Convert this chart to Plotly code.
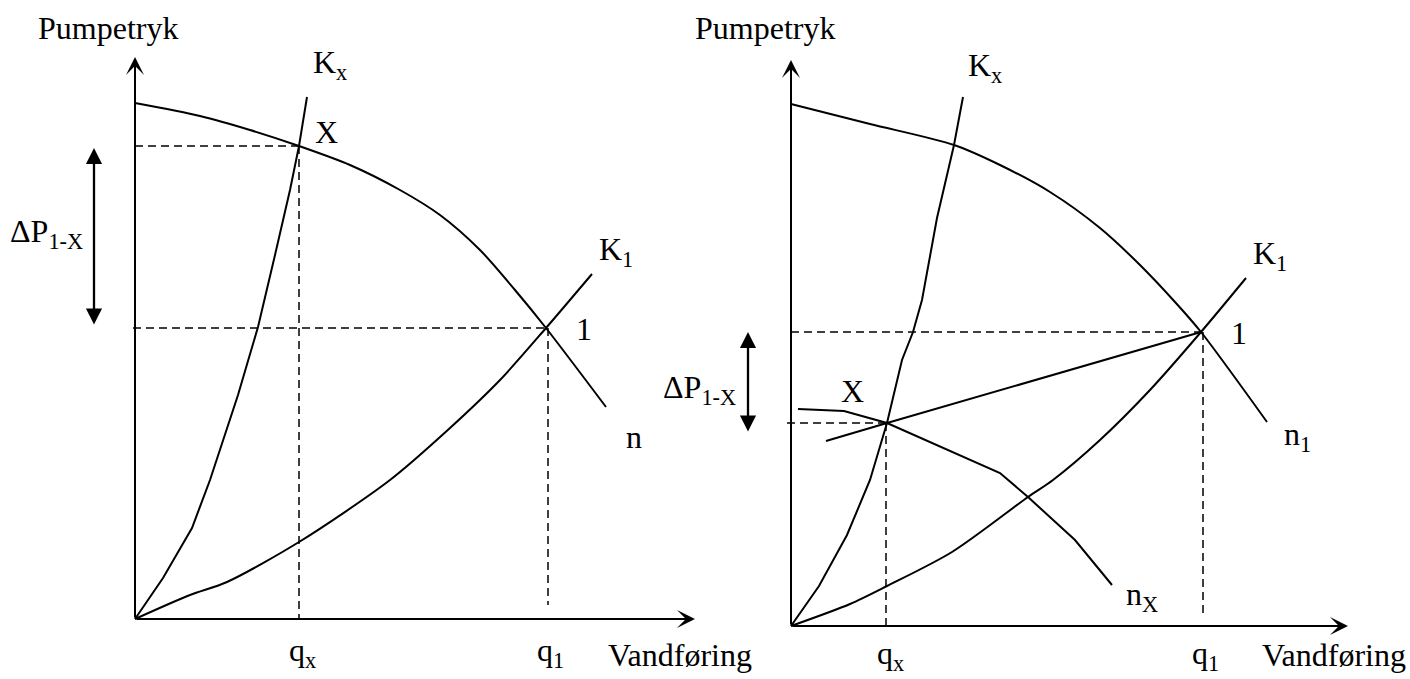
import plotly.graph_objects as go

# ---------------- data (drawing units: q = flow, p = pressure) ----------------
# Left panel
pump_q_L = [0, 65, 115, 164, 215, 265, 305, 345, 380, 411, 471]
pump_p_L = [516, 503, 489, 473, 454, 429, 404, 369, 329, 291, 212]
kx_q_L = [0, 28, 57, 75, 103, 123, 140, 155, 164, 172]
kx_p_L = [0, 41, 91, 139, 224, 292, 364, 429, 473, 522]
k1_q_L = [0, 55, 92, 164, 255, 315, 365, 411, 457]
k1_p_L = [0, 24, 37, 77, 139, 191, 239, 291, 345]
op_q_L = [164, 411]          # q_x, q_1
op_p_L = [473, 291]          # p_X, p_1
dP_L = [471, 293]            # ΔP arrow ends

# Right panel
pump_q_R = [0, 79, 163, 209, 259, 309, 349, 384, 410, 476]
pump_p_R = [522, 502, 481, 461, 434, 398, 361, 324, 294, 204]
kx_q_R = [0, 28, 56, 79, 96, 111, 122, 131, 146, 163, 172]
kx_p_R = [0, 40, 91, 146, 203, 266, 294, 326, 408, 481, 529]
k1_q_R = [0, 59, 96, 161, 237, 262, 309, 359, 410, 455]
k1_p_R = [0, 22, 40, 74, 129, 146, 186, 236, 294, 348]
nx_q_R = [7, 53, 96, 164, 209, 237, 284, 321]
nx_p_R = [217, 215, 203, 173, 153, 129, 86, 41]
sys_q_R = [35, 96, 410]      # straight line through X and 1
sys_p_R = [185, 203, 294]
op_q_R = [96, 410]
op_p_R = [203, 294]
dP_R = [294, 193]

FONT = "Liberation Serif"
BLACK = "black"

fig = go.Figure()


def line(q, p, ax, dash=None, width=2.0, smooth=False):
    fig.add_trace(go.Scatter(
        x=q, y=p, mode="lines", xaxis="x" if ax == 1 else "x2",
        yaxis="y" if ax == 1 else "y2",
        line=dict(color=BLACK, width=width, dash=dash,
                  shape="spline" if smooth else "linear",
                  smoothing=0.8 if smooth else None),
        hoverinfo="skip", showlegend=False))


DASH = "8px,5px"

# left panel curves
line(pump_q_L, pump_p_L, 1, smooth=True)
line(kx_q_L, kx_p_L, 1)
line(k1_q_L, k1_p_L, 1, smooth=True)
line([0, op_q_L[0]], [op_p_L[0]] * 2, 1, DASH, 1.5)
line([op_q_L[0]] * 2, [op_p_L[0], 0], 1, DASH, 1.5)
line([-2, op_q_L[1]], [op_p_L[1]] * 2, 1, DASH, 1.5)
line([op_q_L[1] + 2] * 2, [op_p_L[1], 14], 1, DASH, 1.5)

# right panel curves
line(pump_q_R, pump_p_R, 2, smooth=True)
line(kx_q_R, kx_p_R, 2)
line(k1_q_R, k1_p_R, 2, smooth=True)
line(nx_q_R, nx_p_R, 2)
line(sys_q_R, sys_p_R, 2)
line([0, op_q_R[1]], [op_p_R[1]] * 2, 2, DASH, 1.5)
line([op_q_R[1] + 2] * 2, [op_p_R[1], 9], 2, DASH, 1.5)
line([-4, op_q_R[0]], [op_p_R[0]] * 2, 2, DASH, 1.5)
line([op_q_R[0] - 1] * 2, [op_p_R[0], 0], 2, DASH, 1.5)

ann = []


def arrow(x0, y0, x1, y1, ax, head, size, width, both=False):
    xr = "x" if ax == 1 else "x2"
    yr = "y" if ax == 1 else "y2"
    ann.append(dict(x=x1, y=y1, ax=x0, ay=y0, xref=xr, yref=yr, axref=xr, ayref=yr,
                    text="", showarrow=True, arrowhead=head, arrowsize=size,
                    arrowwidth=width, arrowcolor=BLACK,
                    arrowside="end+start" if both else "end",
                    startarrowhead=head, startarrowsize=size))


# axes with arrows
arrow(0, 0, 0, 562, 1, 3, 1.5, 2)
arrow(0, 0, 560, 0, 1, 3, 1.5, 2)
arrow(0, 0, 0, 566, 2, 3, 1.5, 2)
arrow(0, 0, 557, 0, 2, 3, 1.5, 2)
# ΔP double arrows
arrow(-41, dP_L[1], -41, dP_L[0], 1, 2, 1.4, 2.3, both=True)
arrow(-43, dP_R[1], -43, dP_R[0], 2, 2, 1.4, 2.3, both=True)


def label(text, q, p, ax, xanchor="left", size=32):
    ann.append(dict(x=q, y=p, xref="x" if ax == 1 else "x2", yref="y" if ax == 1 else "y2",
                    text=text, showarrow=False, xanchor=xanchor, yanchor="middle",
                    font=dict(family=FONT, size=size, color=BLACK)))


# left labels
label("Pumpetryk", -27, 591, 1, "center")
label("K<sub>x</sub>", 176, 555, 1)
label("X", 191, 487, 1, "center")
label("ΔP<sub>1-X</sub>", -127, 386, 1)
label("K<sub>1</sub>", 462, 368, 1)
label("1", 439, 290, 1)
label("n", 489, 182, 1)
label("q<sub>x</sub>", 167, -33, 1, "center")
label("q<sub>1</sub>", 415, -33, 1, "center")
label("Vandføring", 471, -36, 1)

# right labels
label("Pumpetryk", -26, 598, 2, "center")
label("K<sub>x</sub>", 175, 559, 2)
label("X", 61, 235, 2, "center")
label("ΔP<sub>1-X</sub>", -53, 237, 2, "right")
label("K<sub>1</sub>", 460, 371, 2)
label("1", 438, 293, 2)
label("n<sub>1</sub>", 491, 190, 2)
label("n<sub>X</sub>", 333, 30, 2)
label("q<sub>x</sub>", 99, -29, 2, "center")
label("q<sub>1</sub>", 414, -29, 2, "center")
label("Vandføring", 469, -29, 2)

ax_common = dict(visible=False, showgrid=False, zeroline=False, fixedrange=True)
fig.update_layout(
    width=1410, height=679,
    margin=dict(l=0, r=0, t=0, b=0),
    paper_bgcolor="white", plot_bgcolor="white",
    xaxis=dict(domain=[0, 0.5], range=[-135, 570], **ax_common),
    yaxis=dict(domain=[0, 1], range=[-60, 619], **ax_common),
    xaxis2=dict(domain=[0.5, 1], range=[-86, 619], anchor="y2", **ax_common),
    yaxis2=dict(domain=[0, 1], range=[-53, 626], anchor="x2", **ax_common),
    annotations=ann,
    showlegend=False,
)

fig.write_html("out.html",
               config={"displayModeBar": False},
               post_script="document.body.style.margin='0px';"
                           "document.body.style.overflow='hidden';")
